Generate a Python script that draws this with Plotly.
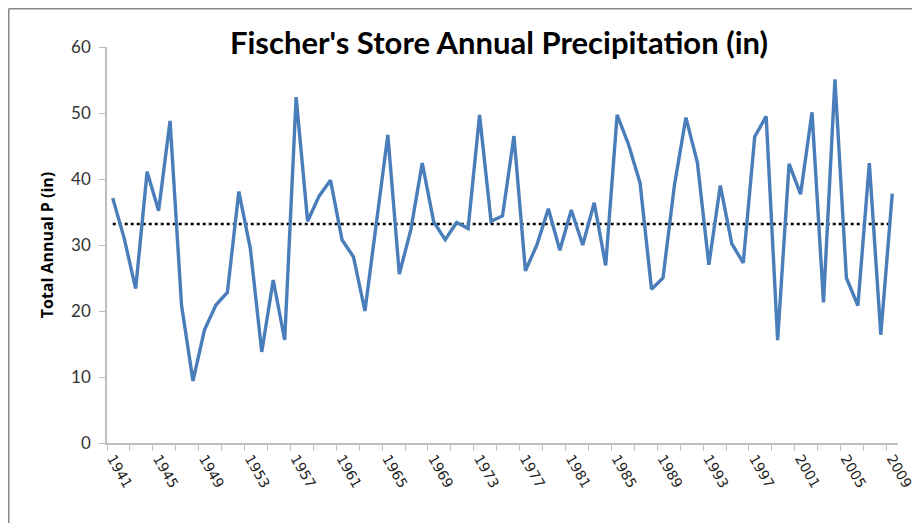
import plotly.graph_objects as go

years = list(range(1941, 2010))
precip = [
    37.1, 31.0, 23.4, 41.1, 35.2, 48.8, 20.9, 9.4, 17.1, 20.9,
    22.8, 38.1, 29.5, 13.8, 24.7, 15.6, 52.4, 33.6, 37.4, 39.8,
    30.8, 28.2, 20.0, 33.0, 46.7, 25.6, 32.3, 42.4, 33.5, 30.8,
    33.4, 32.5, 49.7, 33.6, 34.4, 46.5, 26.1, 30.0, 35.5, 29.2,
    35.3, 30.0, 36.4, 26.9, 49.7, 45.2, 39.4, 23.3, 25.0, 39.1,
    49.3, 42.5, 27.0, 39.0, 30.2, 27.3, 46.4, 49.5, 15.6, 42.3,
    37.7, 50.1, 21.3, 55.1, 25.0, 20.8, 42.4, 16.4, 37.8,
]
mean_value = 33.2
label_years = list(range(1941, 2010, 4))
y_ticks = [0, 10, 20, 30, 40, 50, 60]

fig = go.Figure()
fig.add_trace(go.Scatter(
    x=years, y=[mean_value] * len(years), mode="lines",
    line=dict(color="black", width=2.5, dash="dot"),
    showlegend=False, hoverinfo="skip",
))
fig.add_trace(go.Scatter(
    x=years, y=precip, mode="lines",
    line=dict(color="#4A7EBB", width=3.4),
    showlegend=False,
))

axis_gray = "#BEBEBE"
L, R, T, B = 99, 30, 39, 88
W, H = 920, 523
pw, ph = W - L - R, H - T - B

def px(fx):
    return (fx - L) / pw

def py(fy):
    return (H - B - fy) / ph

fig.update_layout(
    width=W, height=H,
    margin=dict(l=L, r=R, t=T, b=B),
    paper_bgcolor="white", plot_bgcolor="white",
    title=dict(
        text="<b>Fischer's Store Annual Precipitation (in)</b>",
        x=491 / W, xanchor="center", y=1 - 35 / H, yanchor="middle",
        font=dict(family="Lato, Open Sans, sans-serif", size=31, color="black"),
    ),
    xaxis=dict(
        range=[years[0] - 0.5, years[-1] + 0.5],
        tickmode="array", tickvals=label_years,
        ticktext=[str(y) for y in label_years],
        tickangle=60, ticks="",
        tickfont=dict(family="DejaVu Sans, sans-serif", size=14, color="#222"),
        showgrid=False, zeroline=False,
        showline=True, linecolor=axis_gray, linewidth=2,
        minor=dict(tickmode="linear", tick0=years[0] - 0.5, dtick=2,
                   ticks="outside", ticklen=6, tickcolor=axis_gray,
                   tickwidth=1, showgrid=False),
    ),
    yaxis=dict(
        range=[0, 60], tickmode="array", tickvals=y_ticks,
        ticks="outside", ticklen=6, tickcolor=axis_gray,
        ticklabelstandoff=5,
        tickfont=dict(family="Lato, Open Sans, sans-serif", size=17, color="#333"),
        showgrid=False, zeroline=False,
        showline=True, linecolor=axis_gray, linewidth=1.5,
        title=dict(text="<b>Total Annual P (in)</b>", standoff=14,
                   font=dict(family="Open Sans, sans-serif", size=16, color="black")),
    ),
)

# Chart border (top and left edges visible in reference)
fig.add_shape(type="line", xref="paper", yref="paper",
              x0=px(0.75), x1=px(W + 10), y0=py(0.75), y1=py(0.75),
              line=dict(color="#888888", width=1.5))
fig.add_shape(type="line", xref="paper", yref="paper",
              x0=px(0.75), x1=px(0.75), y0=py(0.75), y1=py(H + 10),
              line=dict(color="#888888", width=1.5))

fig.write_html("out.html")
